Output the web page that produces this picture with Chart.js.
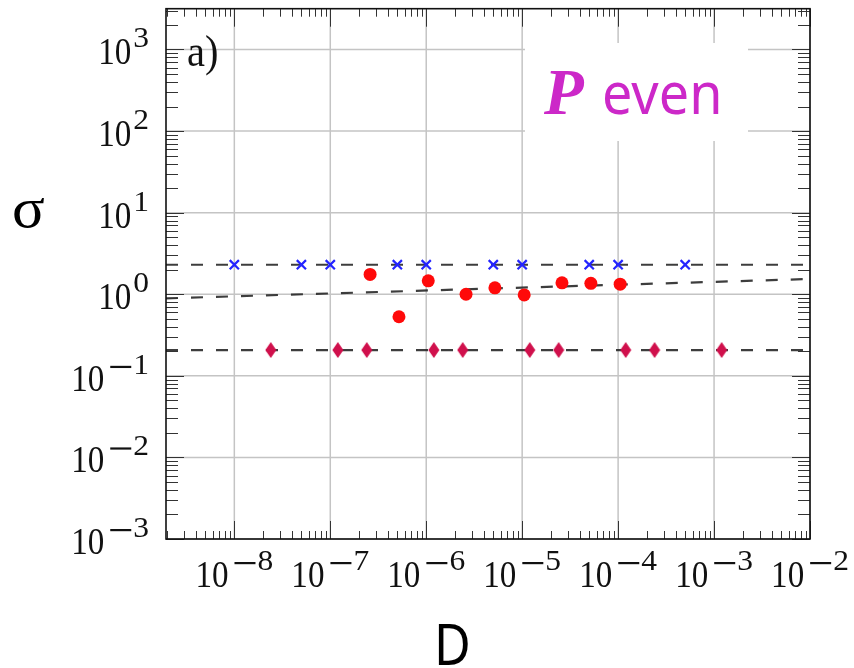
<!DOCTYPE html>
<html>
<head>
<meta charset="utf-8">
<script src="https://cdn.jsdelivr.net/npm/chart.js@4/dist/chart.umd.min.js"></script>
<style>
  html, body { margin: 0; padding: 0; background: #fff; }
  canvas { display: block; }
</style>
</head>
<body>
<canvas id="sigmaChart" width="854" height="668"></canvas>
<script>
// measured points
const crossD = [1e-8, 5e-8, 1e-7, 5e-7, 1e-6, 5e-6, 1e-5, 5e-5, 1e-4, 5e-4];
const crossSigma = [2.3, 2.3, 2.3, 2.3, 2.3, 2.3, 2.3, 2.3, 2.3, 2.3];
const circleD = [2.6e-7, 5.2e-7, 1.05e-6, 2.6e-6, 5.2e-6, 1.05e-5, 2.6e-5, 5.2e-5, 1.05e-4];
const circleSigma = [1.75, 0.53, 1.46, 1.0, 1.2, 0.98, 1.38, 1.36, 1.33];
const diamondD = [2.4e-8, 1.2e-7, 2.4e-7, 1.2e-6, 2.4e-6, 1.2e-5, 2.4e-5, 1.2e-4, 2.4e-4, 1.2e-3];
const diamondSigma = [0.207, 0.207, 0.207, 0.207, 0.207, 0.207, 0.207, 0.207, 0.207, 0.207];

// fitted power laws, evaluated at the axis ends
const fitD = [1.94e-9, 1e-2];
const fitCross = [2.3, 2.3];
const fitCircle = [0.89, 1.54];
const fitDiamond = [0.207, 0.207];

// decade labels
const xTickExps = [-8, -7, -6, -5, -4, -3, -2];
const yTickExps = [-3, -2, -1, 0, 1, 2, 3];

const pts = (xs, ys) => xs.map((x, i) => ({ x: x, y: ys[i] }));

// tall diamond marker
const diamond = document.createElement("canvas");
diamond.width = 12; diamond.height = 16;
(function () {
  const c = diamond.getContext("2d");
  c.fillStyle = "#d0104c";
  c.beginPath();
  c.moveTo(6, 0); c.lineTo(11.5, 8); c.lineTo(6, 16); c.lineTo(0.5, 8);
  c.closePath();
  c.fill();
})();

const SERIF = '"Liberation Serif", "DejaVu Serif", serif';
const SX = 0.87;

function drawPow(ctx, exp, x, y, align) {
  ctx.save();
  ctx.fillStyle = "#111";
  ctx.textBaseline = "alphabetic";
  ctx.textAlign = "left";
  ctx.font = "38px " + SERIF;
  const wBase = ctx.measureText("10").width * SX;
  ctx.font = "30px " + SERIF;
  const digits = String(Math.abs(exp));
  const wExp = ctx.measureText(digits).width * 1.05;
  const wMinus = exp < 0 ? 29 : 2;
  const total = wBase + wMinus + wExp;
  let x0 = x;
  if (align === "right") x0 = x - total;
  else if (align === "center") x0 = x - total / 2;
  const yExp = y - 17;

  ctx.save();
  ctx.translate(x0, y); ctx.scale(SX, 1);
  ctx.font = "38px " + SERIF;
  ctx.fillText("10", 0, 0);
  ctx.restore();

  let cx = x0 + wBase;
  if (exp < 0) ctx.fillRect(cx + 6, yExp - 8, 21, 2.2);
  cx += wMinus;
  ctx.save();
  ctx.translate(cx, yExp); ctx.scale(1.05, 1);
  ctx.font = "30px " + SERIF;
  ctx.fillText(digits, 0, 0);
  ctx.restore();
  ctx.restore();
}

function scaledText(ctx, text, x, y, font, color, sx) {
  ctx.save();
  ctx.translate(x, y); ctx.scale(sx, 1);
  ctx.font = font;
  ctx.fillStyle = color;
  ctx.textAlign = "left";
  ctx.textBaseline = "alphabetic";
  ctx.fillText(text, 0, 0);
  ctx.restore();
}

function decades(lo, hi) {
  const out = [];
  for (let e = Math.floor(Math.log10(lo)); e <= Math.ceil(Math.log10(hi)); e++) {
    for (let m = 1; m <= 9; m++) {
      const v = m * Math.pow(10, e);
      if (v >= lo * 0.999 && v <= hi * 1.001) out.push({ v: v, major: m === 1 });
    }
  }
  return out;
}

const framePlugin = {
  id: "frame",
  beforeDatasetsDraw(chart) {
    const { ctx, chartArea: a, scales } = chart;
    const xs = scales.x, ys = scales.y;
    ctx.save();
    // decade grid
    ctx.strokeStyle = "#c4c4c4";
    ctx.lineWidth = 1.5;
    decades(xs.min, xs.max).filter(t => t.major).forEach(t => {
      const px = xs.getPixelForValue(t.v);
      ctx.beginPath(); ctx.moveTo(px, a.top); ctx.lineTo(px, a.bottom); ctx.stroke();
    });
    decades(ys.min, ys.max).filter(t => t.major).forEach(t => {
      const py = ys.getPixelForValue(t.v);
      ctx.beginPath(); ctx.moveTo(a.left, py); ctx.lineTo(a.right, py); ctx.stroke();
    });
    // label box
    ctx.fillStyle = "#fff";
    ctx.fillRect(525, 43, 223, 98);
    scaledText(ctx, "P", 544, 114, "bold italic 65px " + SERIF, "#cc28c8", 1);
    scaledText(ctx, "even", 602, 114, '58px "Noto Sans", sans-serif', "#cc28c8", 0.93);
    scaledText(ctx, "a)", 187, 66, "44px " + SERIF, "#111", 0.92);
    ctx.restore();
  },
  afterDraw(chart) {
    const { ctx, chartArea: a, scales } = chart;
    const xs = scales.x, ys = scales.y;
    ctx.save();
    ctx.strokeStyle = "#333";
    ctx.lineWidth = 1;
    decades(xs.min, xs.max).forEach(t => {
      const px = Math.round(xs.getPixelForValue(t.v)) + 0.5;
      const len = t.major ? 18 : 8;
      ctx.beginPath();
      ctx.moveTo(px, a.bottom); ctx.lineTo(px, a.bottom - len);
      ctx.moveTo(px, a.top); ctx.lineTo(px, a.top + len);
      ctx.stroke();
    });
    decades(ys.min, ys.max).forEach(t => {
      const py = Math.round(ys.getPixelForValue(t.v)) + 0.5;
      const len = t.major ? 18 : 12;
      ctx.beginPath();
      ctx.moveTo(a.left, py); ctx.lineTo(a.left + len, py);
      ctx.moveTo(a.right, py); ctx.lineTo(a.right - len, py);
      ctx.stroke();
    });
    ctx.strokeStyle = "#111";
    ctx.lineWidth = 1.6;
    ctx.strokeRect(a.left, a.top, a.right - a.left, a.bottom - a.top);

    xTickExps.forEach(e => drawPow(ctx, e, xs.getPixelForValue(Math.pow(10, e)), 587, "center"));
    yTickExps.forEach(e => drawPow(ctx, e, 149, ys.getPixelForValue(Math.pow(10, e)) + 15, "right"));

    scaledText(ctx, "σ", 12, 227, "58px " + SERIF, "#000", 1.05);
    scaledText(ctx, "D", 434, 665, '56px "Noto Sans", sans-serif', "#000", 0.9);
    ctx.restore();
  }
};

const dashed = (data) => ({
  data: data,
  showLine: true,
  pointRadius: 0,
  borderColor: "rgba(40,40,40,0.9)",
  borderWidth: 2.2,
  borderDash: [12, 13],
  fill: false
});

new Chart(document.getElementById("sigmaChart"), {
  type: "scatter",
  data: {
    datasets: [
      {
        data: pts(crossD, crossSigma),
        pointStyle: "crossRot",
        pointRadius: 6.5,
        borderColor: "#2424ff",
        borderWidth: 2.2
      },
      {
        data: pts(circleD, circleSigma),
        pointStyle: "circle",
        pointRadius: 6.5,
        backgroundColor: "#ff0a0a",
        borderColor: "#ff0a0a",
        borderWidth: 0
      },
      {
        data: pts(diamondD, diamondSigma),
        pointStyle: diamond,
        pointRadius: 7
      },
      dashed(pts(fitD, fitCross)),
      dashed(pts(fitD, fitCircle)),
      dashed(pts(fitD, fitDiamond))
    ]
  },
  options: {
    responsive: false,
    animation: false,
    layout: { padding: { left: 166, right: 44, top: 7, bottom: 129 } },
    plugins: { legend: { display: false }, tooltip: { enabled: false } },
    scales: {
      x: { type: "logarithmic", min: 1.94e-9, max: 1e-2, display: false },
      y: { type: "logarithmic", min: 1e-3, max: 3162, display: false }
    }
  },
  plugins: [framePlugin]
});
</script>
</body>
</html>
